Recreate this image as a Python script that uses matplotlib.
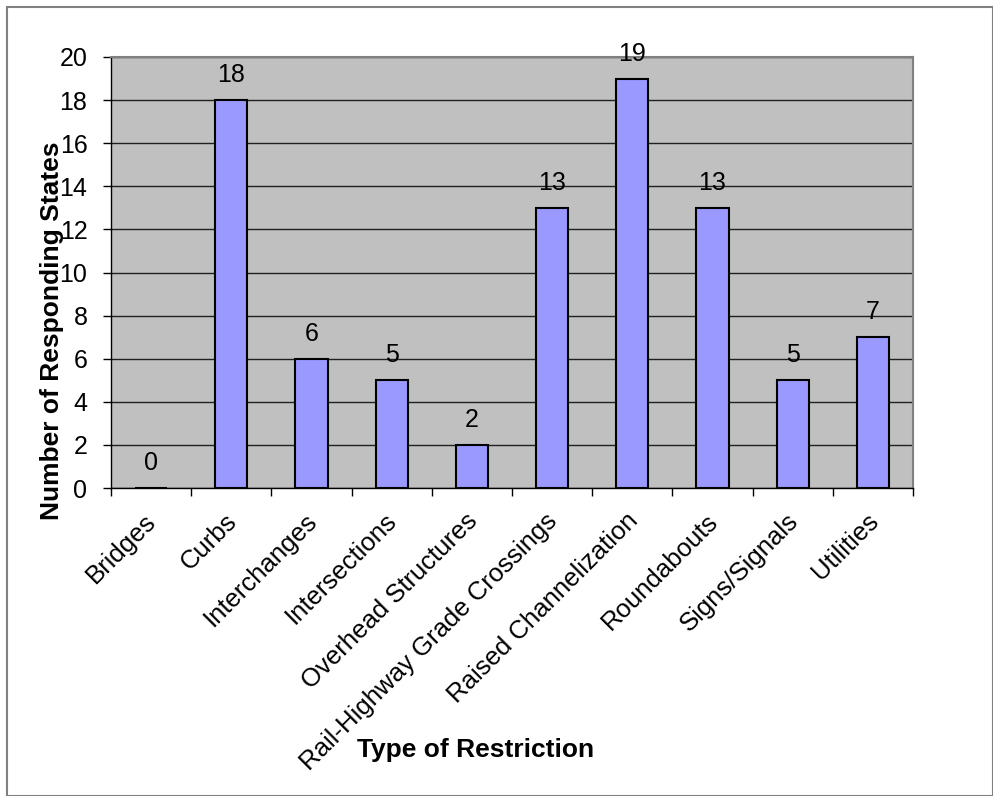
import matplotlib
matplotlib.use("Agg")
import matplotlib.pyplot as plt
from matplotlib.patches import Rectangle
from matplotlib.transforms import ScaledTranslation

categories = ["Bridges", "Curbs", "Interchanges", "Intersections", "Overhead Structures",
              "Rail-Highway Grade Crossings", "Raised Channelization", "Roundabouts",
              "Signs/Signals", "Utilities"]
values = [0, 18, 6, 5, 2, 13, 19, 13, 5, 7]
yticks = list(range(0, 21, 2))

plt.rcParams['font.family'] = ['Liberation Sans', 'DejaVu Sans']

W, H = 993, 796
fig = plt.figure(figsize=(W / 100, H / 100), dpi=100)
fig.patches.append(Rectangle((7 / W, 0), 1 - 7 / W, 1 - 7 / H,
                             transform=fig.transFigure, fill=False,
                             edgecolor='#808080', linewidth=1.5))

left, right, top, bottom = 111, 913, 57, 488
ax = fig.add_axes([left / W, 1 - bottom / H, (right - left) / W, (bottom - top) / H])
ax.set_facecolor('#C0C0C0')

x = list(range(len(categories)))
ax.bar(x, values, width=0.4, color='#9999FF', edgecolor='black', linewidth=1.5, zorder=3)
for xi, v in zip(x, values):
    ax.annotate(str(v), (xi, v), xytext=(0, 18), textcoords='offset points',
                ha='center', va='center', fontsize=18, zorder=4)

ax.set_xlim(-0.5, len(categories) - 0.5)
ax.set_ylim(0, 20)
ax.set_yticks(yticks)
ax.set_yticklabels([str(t) for t in yticks], fontsize=18)
ax.yaxis.grid(True, color='#202020', linewidth=1, zorder=1)
ax.set_axisbelow(True)

ax.set_xticks([i - 0.5 for i in range(len(categories) + 1)])
ax.set_xticklabels([])
ax.set_xticks(x, minor=True)
ax.set_xticklabels(categories, minor=True, rotation=45, ha='right', va='top',
                   rotation_mode='anchor', fontsize=18.5)
ax.tick_params(axis='x', which='minor', length=0, pad=15)
ax.tick_params(axis='x', which='major', length=6, width=1, color='black')
ax.tick_params(axis='y', length=6, width=1, color='black', pad=11)
shift = ScaledTranslation(-0.07, 0.0, fig.dpi_scale_trans)
for lbl in ax.get_xticklabels(minor=True):
    lbl.set_transform(lbl.get_transform() + shift)

for s in ['top', 'right']:
    ax.spines[s].set_color('#808080')
    ax.spines[s].set_linewidth(1.5)
for s in ['left', 'bottom']:
    ax.spines[s].set_color('black')
    ax.spines[s].set_linewidth(1)

fig.text(52 / W, 1 - 331 / H, "Number of Responding States", rotation=90,
         ha='center', va='center', fontsize=19, fontweight='bold')
fig.text(476 / W, 1 - 750 / H, "Type of Restriction",
         ha='center', va='center', fontsize=19, fontweight='bold')

fig.savefig("out.png", dpi=100)
